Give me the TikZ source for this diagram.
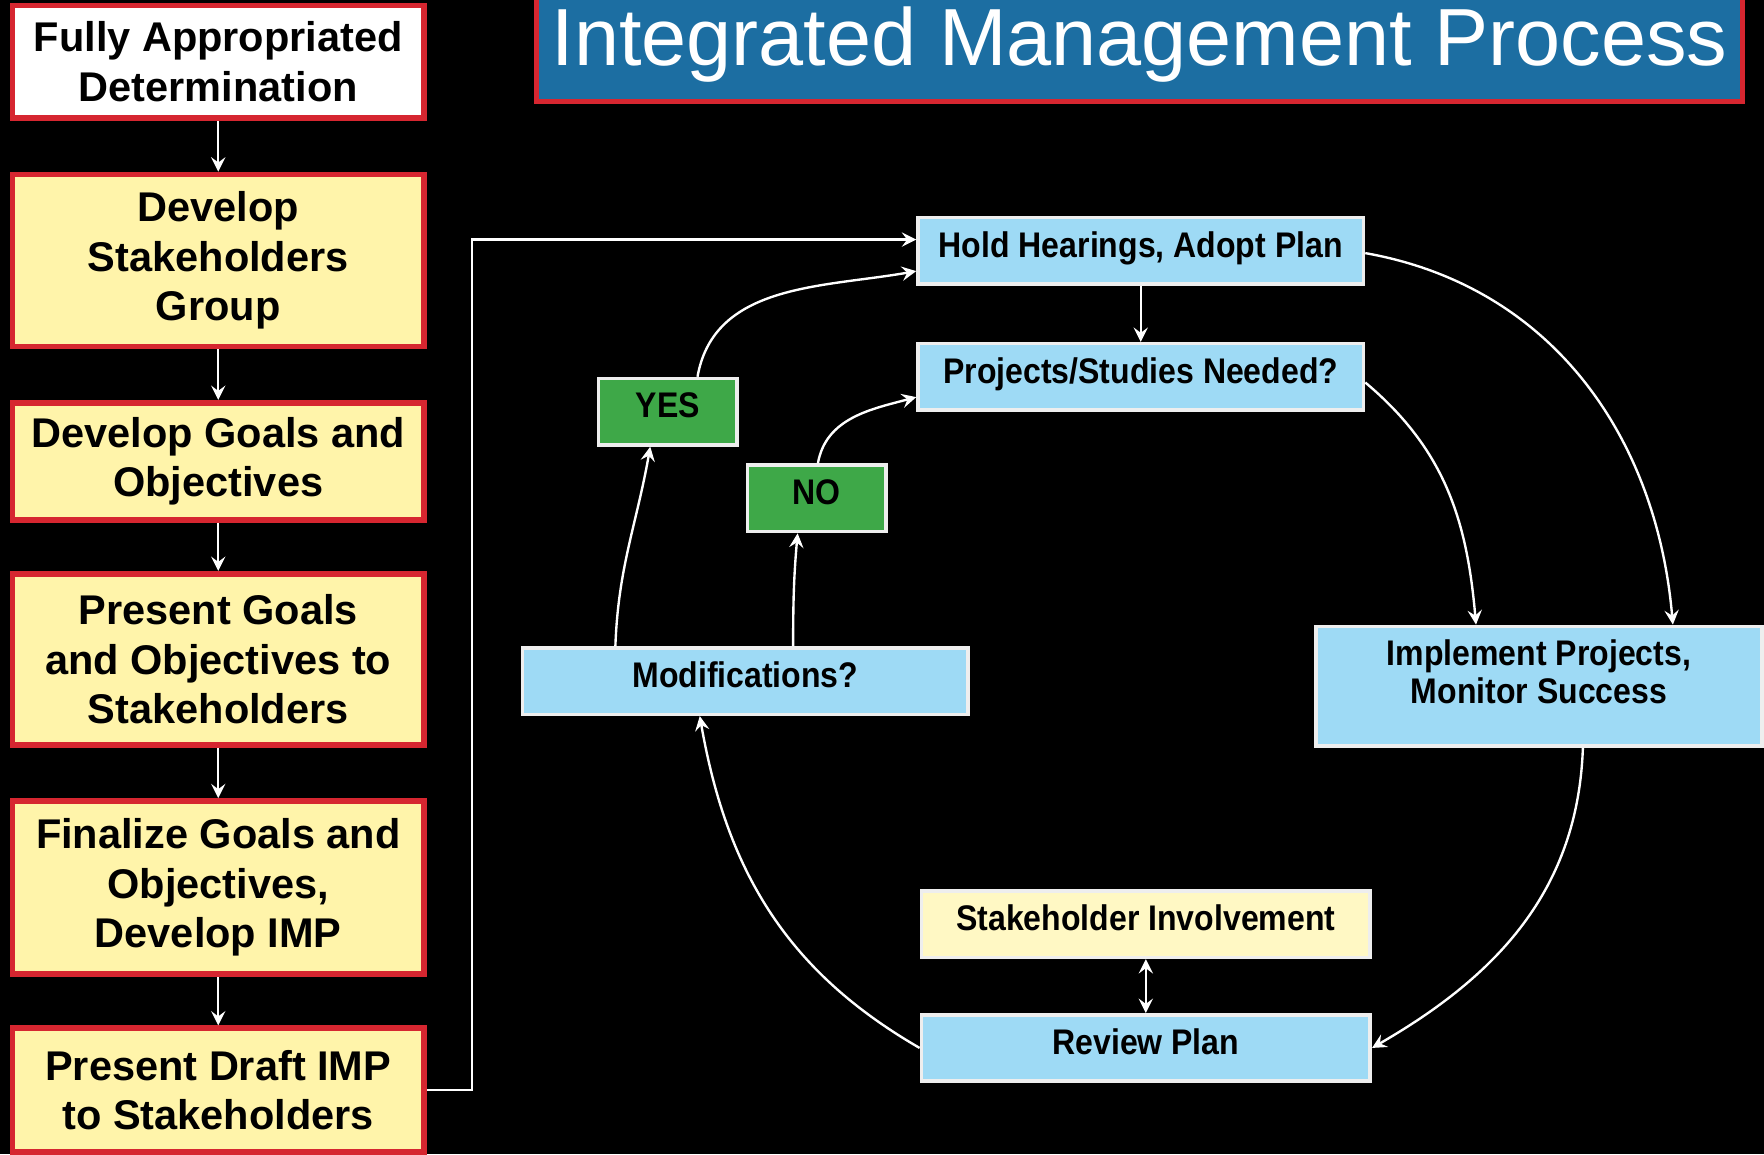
\documentclass[tikz,border=0pt]{standalone}
\usepackage{fontspec}
\setmainfont{Liberation Sans}
\newfontfamily\narrowfont{Liberation Sans}[FakeStretch=0.9]
\definecolor{imred}{RGB}{214,38,48}
\definecolor{imyellow}{RGB}{255,244,170}
\definecolor{impale}{RGB}{255,248,196}
\definecolor{imblue}{RGB}{158,218,245}
\definecolor{imgreen}{RGB}{62,168,72}
\definecolor{imtitle}{RGB}{28,110,162}
\definecolor{imedge}{RGB}{238,238,238}

\begin{document}
\begin{tikzpicture}[
    stepbox/.style={rectangle, draw=imred, line width=1.4pt, fill=imyellow, minimum width=3.66cm, align=center, font=\fontsize{10.5}{12.5}\selectfont\bfseries},
    cyclebox/.style={rectangle, draw=imedge, line width=0.9pt, fill=imblue, minimum width=3.96cm, minimum height=0.59cm, align=center, text depth=0.12cm, font=\narrowfont\fontsize{9}{9.7}\selectfont\bfseries},
    answer/.style={cyclebox, fill=imgreen, minimum width=1.23cm},
    arrow/.style={->, >=stealth, white, line width=0.6pt}
]
    \useasboundingbox (0,0) rectangle (15.68,-10.26);
    \clip (0,0) rectangle (15.68,-10.26);
    \fill[black] (0,0) rectangle (15.68,-10.26);

    % Title
    \node[rectangle, draw=imred, line width=1.2pt, fill=imtitle, minimum width=10.72cm, minimum height=1.0cm, text=white, font=\fontsize{20.5}{24}\selectfont] (title) at (10.13,-0.40) {Integrated Management Process};

    % Left column
    \node[stepbox, fill=white, minimum height=1.0cm] (fad) at (1.94,-0.55) {Fully Appropriated\\Determination};
    \node[stepbox, minimum height=1.53cm] (group) at (1.94,-2.315) {Develop\\Stakeholders\\Group};
    \node[stepbox, minimum height=1.04cm] (goals) at (1.94,-4.10) {Develop Goals and\\Objectives};
    \node[stepbox, minimum height=1.52cm] (present) at (1.94,-5.86) {Present Goals\\and Objectives to\\Stakeholders};
    \node[stepbox, minimum height=1.54cm] (final) at (1.94,-7.89) {Finalize Goals and\\Objectives,\\Develop IMP};
    \node[stepbox, minimum height=1.10cm] (draft) at (1.94,-9.69) {Present Draft IMP\\to Stakeholders};

    \draw[arrow] (fad) -- (group);
    \draw[arrow] (group) -- (goals);
    \draw[arrow] (goals) -- (present);
    \draw[arrow] (present) -- (final);
    \draw[arrow] (final) -- (draft);

    % Management cycle
    \node[cyclebox] (hold) at (10.14,-2.23) {Hold Hearings, Adopt Plan};
    \node[cyclebox] (needed) at (10.14,-3.35) {Projects/Studies Needed?};
    \node[answer] (yes) at (5.935,-3.66) {YES};
    \node[answer] (no) at (7.26,-4.43) {NO};
    \node[cyclebox] (mods) at (6.625,-6.055) {Modifications?};
    \node[cyclebox, minimum height=1.02cm, text depth=0.26cm] (impl) at (13.68,-6.10) {Implement Projects,\\Monitor Success};
    \node[cyclebox, fill=impale, minimum width=3.99cm] (involve) at (10.185,-8.215) {Stakeholder Involvement};
    \node[cyclebox, minimum width=3.99cm] (review) at (10.185,-9.315) {Review Plan};

    % Connectors
    \draw[arrow] (draft.east) -- ++(0.40,0) |- ([yshift=0.10cm]hold.west);
    \draw[arrow] (hold) -- (needed);
    \draw[arrow] ([xshift=0.265cm]yes.north) to[out=80, in=190] ([yshift=-0.18cm]hold.west);
    \draw[arrow] ([xshift=-1.155cm]mods.north) to[out=88, in=260] ([xshift=-0.155cm]yes.south);
    \draw[arrow] ([xshift=0.425cm]mods.north) to[out=90, in=265] ([xshift=-0.17cm]no.south);
    \draw[arrow] ([xshift=0.01cm]no.north) to[out=80, in=195] ([yshift=-0.18cm]needed.west);
    \draw[arrow] ([yshift=-0.02cm]hold.east) to[out=-10, in=95] ([xshift=1.19cm]impl.north);
    \draw[arrow] ([yshift=-0.05cm]needed.east) to[out=-40, in=95] ([xshift=-0.56cm]impl.north);
    \draw[arrow] ([xshift=0.39cm]impl.south) to[out=-92, in=30] (review.east);
    \draw[arrow] (review.west) to[out=150, in=-80] ([xshift=-0.405cm]mods.south);
    \draw[arrow, <->] (involve) -- (review);
\end{tikzpicture}
\end{document}
